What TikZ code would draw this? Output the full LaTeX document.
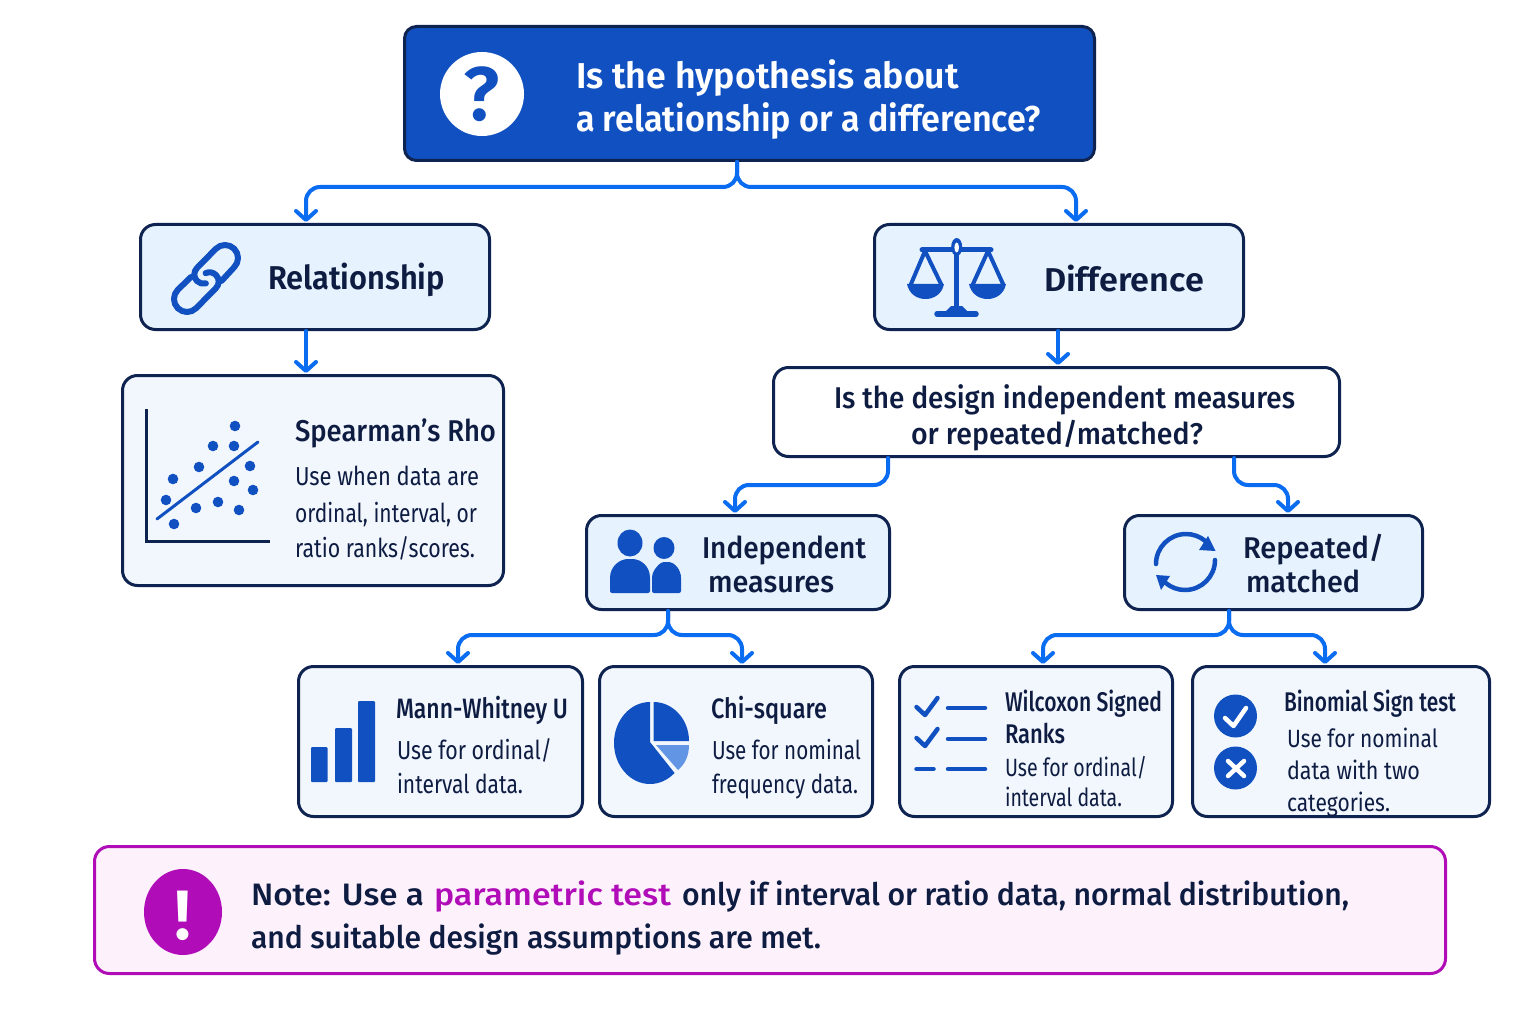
\documentclass[tikz,border=0pt]{standalone}
\usepackage{fontspec}
\usepackage{graphicx}
\usetikzlibrary{arrows.meta,calc}
\setmainfont{Fira Sans}
\newfontfamily\med{Fira Sans Medium}
\newfontfamily\semi{Fira Sans SemiBold}
\definecolor{navy}{HTML}{0E1C42}
\definecolor{edge}{HTML}{0F2350}
\definecolor{royal}{HTML}{1150C0}
\definecolor{conn}{HTML}{0A6CF0}
\definecolor{magent}{HTML}{B00CB8}
\definecolor{palea}{HTML}{E6F2FD}
\definecolor{paleb}{HTML}{F2F7FE}
\definecolor{palem}{HTML}{FDF2FC}
\newcommand\tx[6][titlesize]{\node[txt,#1] (#2) at (#3,#4) {\resizebox{#5pt}{\height}{#6}};}
\tikzset{
  box/.style={draw=edge,line width=3pt,rounded corners=15pt,inner sep=0pt},
  txt/.style={anchor=base west,inner sep=0pt,outer sep=0pt,text=navy},
  titlesize/.style={font=\semi\fontsize{33}{33}\selectfont},
  midsize/.style={font=\med\fontsize{30}{30}\selectfont},
  subsize/.style={font=\med\fontsize{28}{28}\selectfont},
  bodysize/.style={font=\fontsize{26}{26}\selectfont},
  link/.style={draw=conn,line width=4pt,rounded corners=14pt,line cap=round,
    -{Straight Barb[length=9pt,width=20pt,round]},shorten >=1pt},
  icon/.style={draw=royal,line cap=round,line join=round},
}
\begin{document}
\begin{tikzpicture}[x=1pt,y=-1pt]
\useasboundingbox (0,0) rectangle (1536,1024);
\fill[white] (0,0) rectangle (1536,1024);

% boxes
\node[box,fill=royal,rounded corners=12pt,minimum width=690pt,minimum height=134pt] (top) at (749.5,93.5) {};
\node[box,fill=palea,minimum width=349pt,minimum height=105pt] (rel) at (315,277) {};
\node[box,fill=palea,minimum width=369pt,minimum height=105pt] (dif) at (1059,277) {};
\node[box,fill=paleb,minimum width=381pt,minimum height=210pt] (spe) at (313,480.5) {};
\node[box,fill=white,minimum width=566pt,minimum height=89pt] (des) at (1056.5,412) {};
\node[box,fill=palea,minimum width=303pt,minimum height=94pt] (ind) at (738,562.5) {};
\node[box,fill=palea,minimum width=298pt,minimum height=94pt] (rep) at (1273.5,562.5) {};
\node[box,fill=paleb,minimum width=284pt,minimum height=150pt] (man) at (440.5,741.5) {};
\node[box,fill=paleb,minimum width=273pt,minimum height=150pt] (chi) at (736,741.5) {};
\node[box,fill=paleb,minimum width=273pt,minimum height=150pt] (wil) at (1036,741.5) {};
\node[box,fill=paleb,minimum width=297pt,minimum height=150pt] (bin) at (1341,741.5) {};
\node[box,draw=magent,fill=palem,minimum width=1351pt,minimum height=127pt] (note) at (770,910) {};

% connectors
\draw[link] ([xshift=-12.5pt]top.south) -- ++(0,25) -| ([xshift=-9pt]rel.north);
\draw[link] ([xshift=-12.5pt]top.south) -- ++(0,25) -| ([xshift=17pt]dif.north);
\draw[link] ([xshift=-9pt]rel.south) -- ([xshift=-7pt]spe.north);
\draw[link] ([xshift=-1pt]dif.south) -- ([xshift=1.5pt]des.north);
\draw[link] ([xshift=-168.5pt]des.south) -- ++(0,27) -| ([xshift=-3pt]ind.north);
\draw[link] ([xshift=177.5pt]des.south) -- ++(0,27) -| ([xshift=14.5pt]rep.north);
\draw[link] ([xshift=-70pt]ind.south) -- ++(0,24) -| ([xshift=17.5pt]man.north);
\draw[link] ([xshift=-70pt]ind.south) -- ++(0,24) -| ([xshift=6pt]chi.north);
\draw[link] ([xshift=-44.5pt]rep.south) -- ++(0,24) -| ([xshift=7pt]wil.north);
\draw[link] ([xshift=-44.5pt]rep.south) -- ++(0,24) -| ([xshift=-16pt]bin.north);

% question icon
\fill[white] (482,94) circle (42pt);
\node[anchor=base,inner sep=0pt,text=royal,font=\semi\fontsize{76}{76}\selectfont] (qmark) at (482,121) {?};

% link icon
\begin{scope}[icon,line width=6pt]
\draw (191,277) -- (177.8,289.8) arc (135:315:13pt) -- (216,288) arc (-45:115:9.2pt);
\draw (221.5,281) -- (234.2,267.2) arc (-45:135:13pt) -- (197,268) arc (135:285:9.2pt);
\end{scope}

% scales icon
\begin{scope}[icon]
\draw[line width=5pt] (922,250) -- (991,250);
\draw[line width=5.5pt] (956.7,250) -- (956.7,312);
\draw[line width=5.5pt] (937,314) -- (976,314);
\fill[royal] (944,313) -- (951,306) -- (962,306) -- (969,313) -- cycle;
\fill[royal] (956.7,247) ellipse [x radius=5.5,y radius=9];
\fill[white] (956.7,247.5) ellipse [x radius=2.3,y radius=5];
\draw[line width=4pt] (911,284) -- (925,251) -- (941,284);
\draw[line width=4pt] (973,284) -- (988,251) -- (1003,284);
\fill[royal] (907,284) -- (944,284) .. controls (942,294) and (934,299) .. (925.5,299) .. controls (917,299) and (909,294) .. (907,284) -- cycle;
\fill[royal] (969,284) -- (1006,284) .. controls (1004,294) and (996,299) .. (987.5,299) .. controls (979,299) and (971,294) .. (969,284) -- cycle;
\end{scope}

% scatter icon
\draw[edge,line width=3pt] (146,409) -- (146,541) -- (270,541);
\draw[royal,line width=3pt,line cap=round] (157,519) -- (258,442);
\foreach \px/\py in {235/426,213/446,234/446,199/467,250/466,173/479,234/481,253/490,166/500,196/508,218/502,239/510,174/524}
  \fill[royal] (\px,\py) circle (5.3pt);

% people icon
\fill[royal] (630,543) ellipse [x radius=12.5,y radius=13.5];
\fill[royal] (664,548) ellipse [x radius=10.5,y radius=11];
\fill[royal,rounded corners=2pt] (610,593) -- (610,580) .. controls (610,566) and (620,559) .. (630,559) .. controls (641,559) and (650,566) .. (650,580) -- (650,593) -- cycle;
\fill[royal,rounded corners=2pt] (652,593) -- (652,575) .. controls (656,566) and (661,562) .. (666,562) .. controls (675,562) and (681,570) .. (681,580) -- (681,593) -- cycle;

% cycle icon
\begin{scope}[icon,line width=4.5pt]
\draw (1156,564) arc (180:50:30pt);
\draw (1215,560) arc (0:-130:30pt);
\end{scope}
\fill[royal] (1208,536) -- (1215.5,551) -- (1199,550) -- cycle;
\fill[royal] (1156,575) -- (1170,576) -- (1161,590) -- cycle;

% bars icon
\fill[royal,rounded corners=1pt] (311,747) rectangle (327.5,782);
\fill[royal,rounded corners=1pt] (335,728) rectangle (352,782);
\fill[royal,rounded corners=1pt] (358,701) rectangle (375,782);

% pie icon
\fill[royal] (650,742) -- (650,702) arc [start angle=90,end angle=313,x radius=36pt,y radius=41pt] -- cycle;
\fill[royal] (653.5,741) -- (653.5,702) arc [start angle=90,end angle=0,x radius=35.5pt,y radius=39pt] -- cycle;
\fill[royal!55!conn!65!white] (656,745) -- (689,745) .. controls (689,756) and (685,764) .. (678,770) -- cycle;

% checklist icon
\begin{scope}[icon,line width=4.5pt]
\draw (916.5,707) -- (925,715) -- (937.5,698);
\draw (948,708) -- (985,708);
\draw (916.5,738) -- (925,746) -- (937.5,729);
\draw (948,739) -- (985,739);
\draw (916.5,769) -- (933.5,769);
\draw (948,769) -- (985,769);
\end{scope}

% check and cross icon
\fill[royal] (1235.5,716) circle (21.5pt);
\fill[royal] (1235.5,768) circle (21.5pt);
\draw[white,line width=4.5pt,line cap=round,line join=round] (1225,718) -- (1233.5,726) -- (1246,708);
\draw[white,line width=4.5pt,line cap=round] (1228,761) -- (1244,776);
\draw[white,line width=4.5pt,line cap=round] (1244,761) -- (1228,776);

% note icon
\fill[magent] (183,912) ellipse [x radius=39,y radius=43];
\node[anchor=base,inner sep=0pt,text=white,font=\semi\fontsize{70}{70}\selectfont] (bang) at (183,939) {!};

% texts
\tx[text=white,font=\semi\fontsize{36}{36}\selectfont]{t1}{576}{89}{383}{Is the hypothesis about}
\tx[text=white,font=\semi\fontsize{36}{36}\selectfont]{t2}{576}{132}{465}{a relationship or a difference?}
\tx{t3}{268}{290}{177}{Relationship}
\tx{t4}{1044}{291}{160}{Difference}
\tx[midsize]{t5}{295}{441}{201}{Spearman’s Rho}
\tx[bodysize]{t6}{295}{485}{184}{Use when data are}
\tx[bodysize]{t7}{295}{522}{182}{ordinal, interval, or}
\tx[bodysize]{t8}{295}{557}{180}{ratio ranks/scores.}
\tx[midsize]{t9}{834}{408}{461}{Is the design independent measures}
\tx[midsize]{t10}{911}{444}{292}{or repeated/matched?}
\tx[midsize]{t11}{702}{558}{164}{Independent}
\tx[midsize]{t12}{708}{592}{126}{measures}
\tx[midsize]{t13}{1243}{558}{141}{Repeated/}
\tx[midsize]{t14}{1246}{592}{114}{matched}
\tx[subsize]{t15}{396}{718}{172}{Mann-Whitney U}
\tx[bodysize]{t16}{397}{759}{155}{Use for ordinal/}
\tx[bodysize]{t17}{397}{793}{126}{interval data.}
\tx[subsize]{t18}{711}{718}{116}{Chi-square}
\tx[bodysize]{t19}{712}{759}{149}{Use for nominal}
\tx[bodysize]{t20}{712}{793}{146}{frequency data.}
\tx[font=\med\fontsize{27}{27}\selectfont]{t21}{1005}{711}{157}{Wilcoxon Signed}
\tx[font=\med\fontsize{27}{27}\selectfont]{t22}{1005}{743}{60}{Ranks}
\tx[font=\fontsize{25}{25}\selectfont]{t23}{1005}{776}{142}{Use for ordinal/}
\tx[font=\fontsize{25}{25}\selectfont]{t24}{1005}{806}{117}{interval data.}
\tx[font=\med\fontsize{27}{27}\selectfont]{t25}{1284}{711}{172}{Binomial Sign test}
\tx[font=\fontsize{25}{25}\selectfont]{t26}{1287}{747}{151}{Use for nominal}
\tx[font=\fontsize{25}{25}\selectfont]{t27}{1287}{779}{133}{data with two}
\tx[font=\fontsize{25}{25}\selectfont]{t28}{1287}{811}{103}{categories.}
\tx[font=\med\fontsize{31}{31}\selectfont]{t29}{251}{905}{173}{Note: Use a}
\tx[font=\med\fontsize{31}{31}\selectfont,text=magent]{t29b}{434}{905}{237}{parametric test}
\tx[font=\med\fontsize{31}{31}\selectfont]{t29c}{682}{905}{667}{only if interval or ratio data, normal distribution,}
\tx[font=\med\fontsize{31}{31}\selectfont]{t30}{251}{948}{570}{and suitable design assumptions are met.}
\end{tikzpicture}
\end{document}
